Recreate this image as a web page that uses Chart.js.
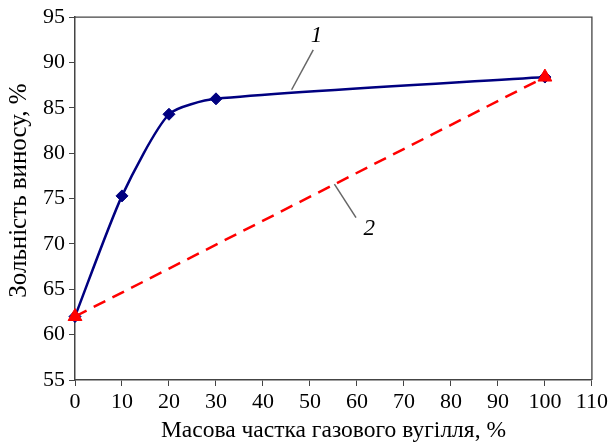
<!DOCTYPE html>
<html><head><meta charset="utf-8">
<script src="https://cdn.jsdelivr.net/npm/chart.js@4/dist/chart.umd.min.js"></script>
<style>html,body{margin:0;padding:0;background:#fff}#w{width:611px;height:445px}</style>
</head><body><div id="w"><canvas id="c" width="611" height="445"></canvas></div>
<script>
const xValues1 = [0, 10, 20, 30, 100];
const yValues1 = [62, 75.3, 84.3, 86.0, 88.4];
const xValues2 = [0, 100];
const yValues2 = [62, 88.4];
const curveLabels = ['1', '2'];
const yTitle = 'Зольність виносу, %';
const xTitle = 'Масова частка газового вугілля, %';
// label anchor (text pos) and leader line from/to, in data coordinates
const labelText = [[51.4, 92.9], [62.6, 71.7]];
const leaderFrom = [[50.7, 91.4], [59.8, 72.9]];
const leaderTo = [[46.1, 87.0], [55.2, 76.6]];

const annot = {
  id: 'annot',
  afterDraw(chart) {
    const {ctx, chartArea: a, scales: {x, y}} = chart;
    ctx.save();
    ctx.strokeStyle = '#444';
    ctx.lineWidth = 1.3;
    ctx.beginPath();
    ctx.moveTo(a.left, a.top); ctx.lineTo(a.right, a.top); ctx.lineTo(a.right, a.bottom);
    ctx.stroke();
    ctx.strokeStyle = '#666';
    ctx.lineWidth = 1.5;
    for (let i = 0; i < 2; i++) {
      ctx.beginPath();
      ctx.moveTo(x.getPixelForValue(leaderFrom[i][0]), y.getPixelForValue(leaderFrom[i][1]));
      ctx.lineTo(x.getPixelForValue(leaderTo[i][0]), y.getPixelForValue(leaderTo[i][1]));
      ctx.stroke();
      ctx.fillStyle = '#000';
      ctx.font = 'italic 23px "Liberation Serif"';
      ctx.textAlign = 'center';
      ctx.textBaseline = 'middle';
      ctx.fillText(curveLabels[i], x.getPixelForValue(labelText[i][0]), y.getPixelForValue(labelText[i][1]));
    }
    // rotated y title
    ctx.translate(19, (a.top + a.bottom) / 2 - 8);
    ctx.rotate(-Math.PI / 2);
    ctx.font = '25px "Liberation Serif"';
    ctx.fillStyle = '#000';
    ctx.textAlign = 'center';
    ctx.textBaseline = 'middle';
    ctx.fillText(yTitle, 0, 0);
    ctx.restore();
  }
};

new Chart(document.getElementById('c'), {
  type: 'scatter',
  data: {
    datasets: [
      {
        data: xValues2.map((v, i) => ({x: v, y: yValues2[i]})),
        showLine: true,
        clip: false,
        borderColor: '#ff0000',
        backgroundColor: '#ff0000',
        borderWidth: 2.5,
        borderDash: [13, 8],
        pointStyle: 'triangle',
        pointRadius: 8,
        pointBorderWidth: 1,
      },
      {
        data: xValues1.map((v, i) => ({x: v, y: yValues1[i]})),
        showLine: true,
        clip: false,
        borderColor: '#000080',
        backgroundColor: '#000080',
        borderWidth: 2.5,
        tension: 0.22,
        pointStyle: 'rectRot',
        pointRadius: 6,
        pointBorderWidth: 1,
      }
    ]
  },
  options: {
    responsive: false,
    animation: false,
    layout: {padding: {left: 0, right: 14, top: 16, bottom: 0}},
    plugins: {legend: {display: false}, tooltip: {enabled: false}},
    scales: {
      x: {
        type: 'linear', min: 0, max: 110,
        ticks: {stepSize: 10, color: '#000', font: {family: 'Liberation Serif', size: 22}, padding: 3, maxRotation: 0},
        grid: {drawOnChartArea: false, drawTicks: true, tickLength: 6, color: '#444'},
        border: {color: '#444', width: 1.5},
        title: {display: true, text: xTitle, color: '#000', font: {family: 'Liberation Serif', size: 23.5}, padding: {top: 0, bottom: 0}},
        afterFit(s) { s.height = 65; }
      },
      y: {
        type: 'linear', min: 55, max: 95,
        ticks: {stepSize: 5, color: '#000', font: {family: 'Liberation Serif', size: 22}, padding: 4},
        grid: {drawOnChartArea: false, drawTicks: true, tickLength: 6, color: '#444'},
        border: {color: '#444', width: 1.5},
        title: {display: false},
        afterFit(s) { s.width = 75; }
      }
    }
  },
  plugins: [annot]
});
</script></body></html>
